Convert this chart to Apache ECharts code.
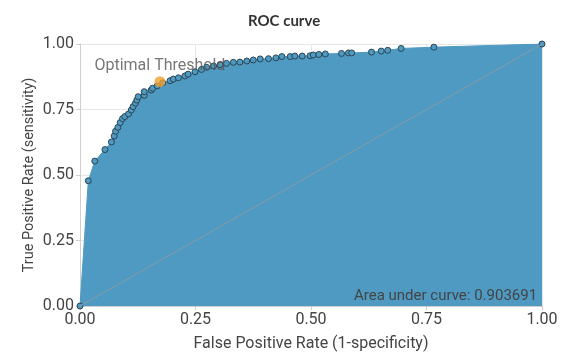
<!DOCTYPE html>
<html>
<head>
<meta charset="utf-8">
<script src="https://cdn.jsdelivr.net/npm/echarts@6/dist/echarts.min.js"></script>
<style>html,body{margin:0;padding:0;background:#fff}#c{width:576px;height:362px}</style>
</head>
<body>
<div id="c"></div>
<script>
var fpr = [0, 0.018, 0.032, 0.054, 0.068, 0.074, 0.077, 0.082, 0.087, 0.092, 0.097, 0.105, 0.111, 0.115, 0.120, 0.123, 0.126, 0.139, 0.139, 0.154, 0.157, 0.167, 0.179, 0.195, 0.202, 0.213, 0.227, 0.234, 0.249, 0.263, 0.274, 0.289, 0.303, 0.317, 0.332, 0.346, 0.361, 0.375, 0.390, 0.408, 0.424, 0.437, 0.455, 0.465, 0.481, 0.498, 0.505, 0.517, 0.531, 0.566, 0.581, 0.588, 0.631, 0.652, 0.666, 0.695, 0.766, 1.0];
var tpr = [0, 0.478, 0.553, 0.597, 0.626, 0.649, 0.667, 0.682, 0.700, 0.715, 0.723, 0.733, 0.748, 0.761, 0.774, 0.786, 0.799, 0.804, 0.818, 0.824, 0.831, 0.840, 0.852, 0.860, 0.866, 0.871, 0.878, 0.885, 0.894, 0.903, 0.911, 0.916, 0.921, 0.926, 0.930, 0.931, 0.935, 0.939, 0.943, 0.944, 0.947, 0.952, 0.952, 0.954, 0.954, 0.955, 0.958, 0.960, 0.962, 0.964, 0.966, 0.966, 0.969, 0.973, 0.976, 0.983, 0.988, 1.0];
var optimal = [0.173, 0.856];
var auc = 0.903691;
var ticks = [0, 0.25, 0.5, 0.75, 1];

var chart = echarts.init(document.getElementById('c'));
var font = 'Roboto, "Noto Sans", sans-serif';
function axisCommon() {
  return {
    type: 'value', min: 0, max: 1, interval: 0.25,
    nameLocation: 'middle',
    nameMoveOverlap: false,
    nameTextStyle: {fontFamily: font, fontSize: 16, color: '#444'},
    axisLine: {show: true, lineStyle: {color: '#cfcfcf'}},
    axisTick: {show: true, length: 4, lineStyle: {color: '#cfcfcf'}},
    axisLabel: {fontFamily: font, fontSize: 16, color: '#444', margin: 6, formatter: function (v) { return v.toFixed(2); }},
    splitLine: {show: true, lineStyle: {color: '#e6e6e6'}}
  };
}
var xAx = axisCommon();
xAx.name = 'False Positive Rate (1-specificity)';
xAx.nameGap = 30;
var yAx = axisCommon();
yAx.name = 'True Positive Rate (sensitivity)';
yAx.nameGap = 43;
yAx.nameTextStyle = {fontFamily: font, fontSize: 14.5, color: '#444'};
chart.setOption({
  animation: false,
  title: [{
    text: 'ROC curve', left: 243, top: 9,
    textStyle: {fontFamily: 'Lato, "Noto Sans", sans-serif', fontWeight: 'bold', fontSize: 15, color: '#333'}
  }, {
    text: 'Area under curve: ' + auc, left: 349, top: 284,
    textStyle: {fontFamily: font, fontWeight: 'normal', fontSize: 15, color: '#444'}
  }],
  graphic: [{
    type: 'rect', left: 543, top: 280, z: 100,
    shape: {width: 40, height: 25},
    style: {fill: '#fff'}
  }],
  grid: {left: 80, right: 34, top: 44, bottom: 56},
  xAxis: xAx,
  yAxis: yAx,
  series: [{
    type: 'line',
    data: fpr.map(function (x, i) { return [x, tpr[i]]; }),
    showSymbol: true, showAllSymbol: true,
    symbol: 'circle', symbolSize: 6,
    lineStyle: {color: '#4f9ac2', width: 1},
    itemStyle: {color: '#4f9ac2', borderColor: '#2b4552', borderWidth: 1},
    areaStyle: {color: '#4f9ac2', opacity: 1},
    z: 2
  }, {
    type: 'line',
    data: ticks.filter(function (t) { return t === 0 || t === 1; }).map(function (t) { return [t, t]; }),
    showSymbol: false,
    lineStyle: {color: '#8a9ba3', width: 1},
    z: 3
  }, {
    type: 'scatter',
    data: [optimal],
    symbolSize: 11,
    itemStyle: {color: '#f0a030'},
    label: {show: true, position: 'top', distance: 2, formatter: 'Optimal Threshold', fontFamily: font, fontSize: 16, color: '#555'},
    z: 4
  }]
});
</script>
</body>
</html>
